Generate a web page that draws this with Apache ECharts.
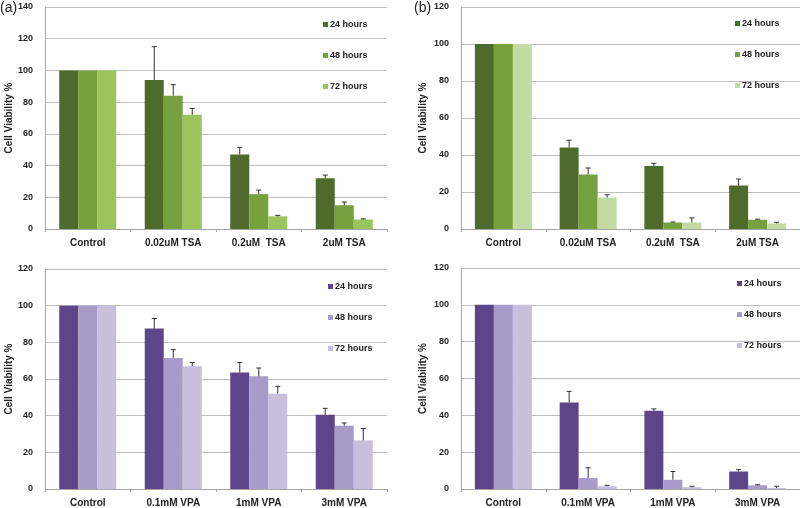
<!DOCTYPE html>
<html><head><meta charset="utf-8">
<script src="https://cdn.jsdelivr.net/npm/echarts@6/dist/echarts.min.js"></script>
<style>html,body{margin:0;padding:0;background:#fff}#c{width:800px;height:508px}</style>
</head><body><div id="c"></div>
<script>
// ---- data ----
const catsTSA = ['Control', '0.02uM TSA', '0.2uM  TSA', '2uM TSA'];
const catsVPA = ['Control', '0.1mM VPA', '1mM VPA', '3mM VPA'];
const seriesNames = ['24 hours', '48 hours', '72 hours'];
const yMaxA = 140, yMaxOther = 120;
// panel (a) TSA
const a24 = [100, 94, 47, 32];
const a48 = [100, 84, 22, 15];
const a72 = [100, 72, 8, 6];
const a24err = [0, 21, 4.5, 2];
const a48err = [0, 7, 2.5, 2];
const a72err = [0, 4, 0.6, 0.4];
// panel (b) TSA
const b24 = [100, 44, 34, 23.5];
const b48 = [100, 29.5, 3.5, 5];
const b72 = [100, 17, 3.5, 3];
const b24err = [0, 4, 1.5, 3.5];
const b48err = [0, 3.5, 0.3, 0.3];
const b72err = [0, 1.5, 2.5, 0.6];
// panel (c) VPA
const c24 = [100, 87.5, 63.5, 40.5];
const c48 = [100, 71.5, 61.5, 34.5];
const c72 = [100, 67, 52, 26.5];
const c24err = [0, 5.5, 5.5, 3.5];
const c48err = [0, 4.5, 4.5, 1.5];
const c72err = [0, 2, 4, 6.5];
// panel (d) VPA
const d24 = [100, 47, 42.5, 9.5];
const d48 = [100, 6, 5, 2];
const d72 = [100, 1.5, 1, 0.5];
const d24err = [0, 6, 1, 1];
const d48err = [0, 5.5, 4.5, 0.3];
const d72err = [0, 0.5, 0.5, 1];

// ---- styling ----
const colA = ['#4e6b2b', '#77a03f', '#9cc45d'];
const colB = ['#4e6b2b', '#77a03f', '#c3dba3'];
const colP = ['#5d4589', '#a99bc9', '#c8bfdd'];
const FONT = 'Liberation Sans';
const BAR_W = 19;

const panels = [
  { cats: catsTSA, vals: [a24, a48, a72], errs: [a24err, a48err, a72err], cols: colA, max: yMaxA,
    grid: { left: 45, top: 7, width: 342, height: 222 }, legend: { left: 318, top: 15 }, nameGap: 30 },
  { cats: catsTSA, vals: [b24, b48, b72], errs: [b24err, b48err, b72err], cols: colB, max: yMaxOther,
    grid: { left: 461, top: 7, width: 339, height: 222 }, legend: { left: 730, top: 14 }, nameGap: 33 },
  { cats: catsVPA, vals: [c24, c48, c72], errs: [c24err, c48err, c72err], cols: colP, max: yMaxOther,
    grid: { left: 45, top: 269, width: 342, height: 220 }, legend: { left: 323, top: 277 }, nameGap: 30 },
  { cats: catsVPA, vals: [d24, d48, d72], errs: [d24err, d48err, d72err], cols: colP, max: yMaxOther,
    grid: { left: 461, top: 268, width: 339, height: 222 }, legend: { left: 732, top: 274 }, nameGap: 33 }
];

const grids = [], xAxes = [], yAxes = [], series = [], legends = [];
panels.forEach((p, pi) => {
  grids.push(Object.assign({ containLabel: false }, p.grid));
  xAxes.push({
    type: 'category', gridIndex: pi, data: p.cats,
    axisLine: { lineStyle: { color: '#a6a6a6', width: 1 } },
    axisTick: { show: true, length: 3, lineStyle: { color: '#a6a6a6' } },
    axisLabel: { color: '#222', fontFamily: FONT, fontWeight: 'bold', fontSize: 10, margin: 9 }
  });
  yAxes.push({
    type: 'value', gridIndex: pi, min: 0, max: p.max, interval: 20,
    name: 'Cell Viability %', nameLocation: 'middle', nameGap: p.nameGap,
    nameTextStyle: { color: '#222', fontFamily: FONT, fontWeight: 'bold', fontSize: 10 },
    axisLine: { show: true, lineStyle: { color: '#a6a6a6', width: 1 } },
    axisTick: { show: false },
    axisLabel: { color: '#222', fontFamily: FONT, fontWeight: 'bold', fontSize: 9, margin: 12 },
    splitLine: { lineStyle: { color: '#bdbdbd', width: 1 } }
  });
  seriesNames.forEach((nm, si) => {
    series.push({
      type: 'bar', name: nm, xAxisIndex: pi, yAxisIndex: pi,
      data: p.vals[si], barWidth: BAR_W, barGap: '0%',
      itemStyle: { color: p.cols[si] }, silent: true
    });
  });
  seriesNames.forEach((nm, si) => {
    const data = p.vals[si].map((v, k) => [k, v, p.errs[si][k]]);
    series.push({
      type: 'custom', name: 'err' + pi + '_' + si, xAxisIndex: pi, yAxisIndex: pi,
      data: data, silent: true, z: 5,
      renderItem: function (params, api) {
        const e = api.value(2);
        if (!e) return null;
        const base = api.coord([api.value(0), api.value(1)]);
        const top = api.coord([api.value(0), api.value(1) + e]);
        const x = base[0] + (si - 1) * BAR_W;
        const cap = 2.5;
        const st = { stroke: '#333', lineWidth: 1 };
        return {
          type: 'group', children: [
            { type: 'line', shape: { x1: x, y1: base[1], x2: x, y2: top[1] }, style: st },
            { type: 'line', shape: { x1: x - cap, y1: top[1], x2: x + cap, y2: top[1] }, style: st }
          ]
        };
      }
    });
  });
  legends.push({
    orient: 'vertical', left: p.legend.left, top: p.legend.top,
    itemWidth: 5, itemHeight: 5, itemGap: 22, icon: 'rect', selectedMode: false,
    textStyle: { color: '#222', fontFamily: FONT, fontWeight: 'bold', fontSize: 9, padding: [0, 0, 0, -3] },
    data: seriesNames.map((nm, si) => ({ name: nm, itemStyle: { color: p.cols[si] } }))
  });
});

const chart = echarts.init(document.getElementById('c'), null, { renderer: 'canvas' });
chart.setOption({
  animation: false,
  backgroundColor: '#fff',
  grid: grids, xAxis: xAxes, yAxis: yAxes, series: series, legend: legends,
  graphic: [
    { type: 'text', left: 0, top: 1, style: { text: '(a)', fontFamily: FONT, fontSize: 14, fill: '#222' } },
    { type: 'text', left: 414, top: 1, style: { text: '(b)', fontFamily: FONT, fontSize: 14, fill: '#222' } }
  ]
});
</script>
</body></html>
